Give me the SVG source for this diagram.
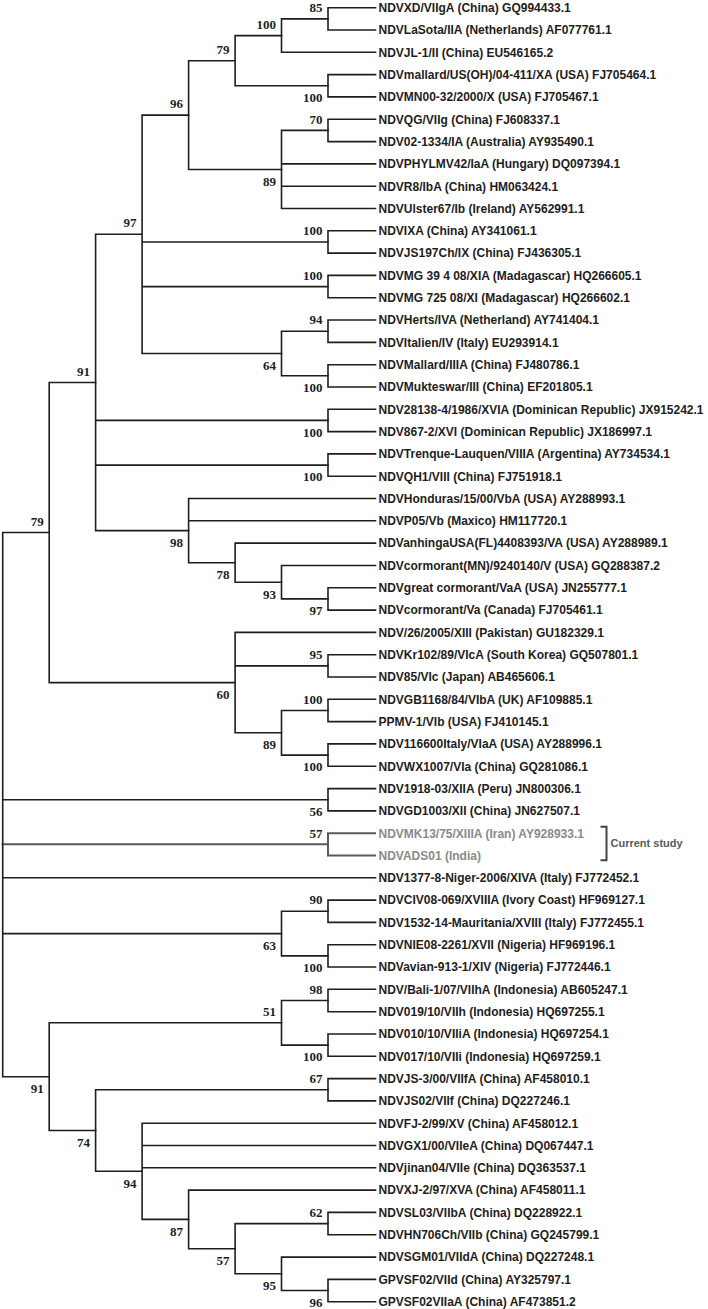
<svg xmlns="http://www.w3.org/2000/svg" width="708" height="1309" viewBox="0 0 708 1309">
<style>
.br{fill:none;stroke:#1e1e1e;stroke-width:1.6;stroke-linecap:square}
.gr{fill:none;stroke:#5a5a5a;stroke-width:2;stroke-linecap:square}
.bs{font-family:"Liberation Serif","Times New Roman",serif;font-weight:bold;font-size:13px;fill:#1e1e1e;text-anchor:end}
.lf{font-family:"Liberation Sans",Arial,sans-serif;font-weight:bold;font-size:12px;fill:#1e1e1e}
.lg{font-family:"Liberation Sans",Arial,sans-serif;font-weight:bold;font-size:12px;fill:#8a8a8a}
.cs{font-family:"Liberation Sans",Arial,sans-serif;font-weight:bold;font-size:11px;fill:#5a5a5a}
</style>
<rect width="708" height="1309" fill="#ffffff"/>
<g id="connectors">
<path class="br" d="M328,7.7V30M328,7.7H375.5M328,30H375.5"/>
<path class="br" d="M281.5,18.9V52.3M281.5,18.9H328M281.5,52.3H375.5"/>
<path class="br" d="M328,74.6V96.9M328,74.6H375.5M328,96.9H375.5"/>
<path class="br" d="M235.1,35.6V85.8M235.1,35.6H281.5M235.1,85.8H328"/>
<path class="br" d="M328,119.3V141.6M328,119.3H375.5M328,141.6H375.5"/>
<path class="br" d="M281.5,130.4V208.5M281.5,130.4H328M281.5,163.9H375.5M281.5,186.2H375.5M281.5,208.5H375.5"/>
<path class="br" d="M188.6,60.7V169.5M188.6,60.7H235.1M188.6,169.5H281.5"/>
<path class="br" d="M328,230.8V253.1M328,230.8H375.5M328,253.1H375.5"/>
<path class="br" d="M328,275.4V297.7M328,275.4H375.5M328,297.7H375.5"/>
<path class="br" d="M328,320V342.4M328,320H375.5M328,342.4H375.5"/>
<path class="br" d="M328,364.7V387M328,364.7H375.5M328,387H375.5"/>
<path class="br" d="M281.5,331.2V375.8M281.5,331.2H328M281.5,375.8H328"/>
<path class="br" d="M142.1,115.1V353.5M142.1,115.1H188.6M142.1,242H328M142.1,286.6H328M142.1,353.5H281.5"/>
<path class="br" d="M328,409.3V431.6M328,409.3H375.5M328,431.6H375.5"/>
<path class="br" d="M328,453.9V476.2M328,453.9H375.5M328,476.2H375.5"/>
<path class="br" d="M328,587.8V610.1M328,587.8H375.5M328,610.1H375.5"/>
<path class="br" d="M281.5,565.5V598.9M281.5,565.5H375.5M281.5,598.9H328"/>
<path class="br" d="M235.1,543.1V582.2M235.1,543.1H375.5M235.1,582.2H281.5"/>
<path class="br" d="M188.6,498.5V562.7M188.6,498.5H375.5M188.6,520.8H375.5M188.6,562.7H235.1"/>
<path class="br" d="M95.6,234.3V530.6M95.6,234.3H142.1M95.6,420.4H328M95.6,465.1H328M95.6,530.6H188.6"/>
<path class="br" d="M328,654.7V677M328,654.7H375.5M328,677H375.5"/>
<path class="br" d="M328,699.3V721.6M328,699.3H375.5M328,721.6H375.5"/>
<path class="br" d="M328,743.9V766.2M328,743.9H375.5M328,766.2H375.5"/>
<path class="br" d="M281.5,710.5V755.1M281.5,710.5H328M281.5,755.1H328"/>
<path class="br" d="M235.1,632.4V732.8M235.1,632.4H375.5M235.1,665.9H328M235.1,732.8H281.5"/>
<path class="br" d="M49.2,382.5V682.6M49.2,382.5H95.6M49.2,682.6H235.1"/>
<path class="br" d="M328,788.6V810.9M328,788.6H375.5M328,810.9H375.5"/>
<path class="gr" d="M328,833.2V855.5M328,833.2H375M328,855.5H375M2.7,844.3H328"/>
<path class="br" d="M328,900.1V922.4M328,900.1H375.5M328,922.4H375.5"/>
<path class="br" d="M328,944.7V967M328,944.7H375.5M328,967H375.5"/>
<path class="br" d="M281.5,911.3V955.9M281.5,911.3H328M281.5,955.9H328"/>
<path class="br" d="M328,989.3V1011.7M328,989.3H375.5M328,1011.7H375.5"/>
<path class="br" d="M328,1034V1056.3M328,1034H375.5M328,1056.3H375.5"/>
<path class="br" d="M281.5,1000.5V1045.1M281.5,1000.5H328M281.5,1045.1H328"/>
<path class="br" d="M328,1078.6V1100.9M328,1078.6H375.5M328,1100.9H375.5"/>
<path class="br" d="M328,1212.4V1234.8M328,1212.4H375.5M328,1234.8H375.5"/>
<path class="br" d="M328,1279.4V1301.7M328,1279.4H375.5M328,1301.7H375.5"/>
<path class="br" d="M281.5,1257.1V1290.5M281.5,1257.1H375.5M281.5,1290.5H328"/>
<path class="br" d="M235.1,1223.6V1273.8M235.1,1223.6H328M235.1,1273.8H281.5"/>
<path class="br" d="M188.6,1190.1V1248.7M188.6,1190.1H375.5M188.6,1248.7H235.1"/>
<path class="br" d="M142.1,1123.2V1219.4M142.1,1123.2H375.5M142.1,1145.5H375.5M142.1,1167.8H375.5M142.1,1219.4H188.6"/>
<path class="br" d="M95.6,1089.7V1171.3M95.6,1089.7H328M95.6,1171.3H142.1"/>
<path class="br" d="M49.2,1022.8V1130.5M49.2,1022.8H281.5M49.2,1130.5H95.6"/>
<path class="br" d="M2.7,532.5V1076.7M2.7,532.5H49.2M2.7,799.7H328M2.7,877.8H375.5M2.7,933.6H281.5M2.7,1076.7H49.2"/>
<path fill="none" stroke="#444" stroke-width="2" d="M600.5,826.7H606.5V860.3H600.5"/>
</g>
<g id="bootstrap">
<g id="n85"><text class="bs" x="322.5" y="12">85</text></g>
<g id="n100a"><text class="bs" x="276" y="28.7">100</text></g>
<g id="n100b"><text class="bs" x="322.5" y="102.1">100</text></g>
<g id="n79a"><text class="bs" x="229.6" y="53.8">79</text></g>
<g id="n70"><text class="bs" x="322.5" y="123.6">70</text></g>
<g id="n89a"><text class="bs" x="276" y="185.8">89</text></g>
<g id="n96"><text class="bs" x="183.1" y="108.2">96</text></g>
<g id="n100c"><text class="bs" x="322.5" y="235.1">100</text></g>
<g id="n100d"><text class="bs" x="322.5" y="279.7">100</text></g>
<g id="n94a"><text class="bs" x="322.5" y="324.4">94</text></g>
<g id="n100e"><text class="bs" x="322.5" y="392.1">100</text></g>
<g id="n64"><text class="bs" x="276" y="369.8">64</text></g>
<g id="n97a"><text class="bs" x="136.6" y="227.4">97</text></g>
<g id="n100f"><text class="bs" x="322.5" y="436.7">100</text></g>
<g id="n100g"><text class="bs" x="322.5" y="481.4">100</text></g>
<g id="n98a"><text class="bs" x="183.1" y="546.9">98</text></g>
<g id="n78"><text class="bs" x="229.6" y="579">78</text></g>
<g id="n93"><text class="bs" x="276" y="598.5">93</text></g>
<g id="n97b"><text class="bs" x="322.5" y="615.2">97</text></g>
<g id="n91a"><text class="bs" x="90.1" y="375.6">91</text></g>
<g id="n79b"><text class="bs" x="43.7" y="525.7">79</text></g>
<g id="n95a"><text class="bs" x="322.5" y="659">95</text></g>
<g id="n60"><text class="bs" x="229.6" y="698.9">60</text></g>
<g id="n100h"><text class="bs" x="322.5" y="703.6">100</text></g>
<g id="n89b"><text class="bs" x="276" y="749.1">89</text></g>
<g id="n100i"><text class="bs" x="322.5" y="771.4">100</text></g>
<g id="n56"><text class="bs" x="322.5" y="816">56</text></g>
<g id="n57a"><text class="bs" x="322.5" y="837.5">57</text></g>
<g id="n90"><text class="bs" x="322.5" y="904.4">90</text></g>
<g id="n63"><text class="bs" x="276" y="949.9">63</text></g>
<g id="n100j"><text class="bs" x="322.5" y="972.2">100</text></g>
<g id="n98b"><text class="bs" x="322.5" y="993.7">98</text></g>
<g id="n51"><text class="bs" x="276" y="1016">51</text></g>
<g id="n100k"><text class="bs" x="322.5" y="1061.4">100</text></g>
<g id="n91b"><text class="bs" x="43.7" y="1093">91</text></g>
<g id="n67"><text class="bs" x="322.5" y="1082.9">67</text></g>
<g id="n74"><text class="bs" x="90.1" y="1146.8">74</text></g>
<g id="n94b"><text class="bs" x="136.6" y="1187.6">94</text></g>
<g id="n87"><text class="bs" x="183.1" y="1235.7">87</text></g>
<g id="n62"><text class="bs" x="322.5" y="1216.8">62</text></g>
<g id="n57b"><text class="bs" x="229.6" y="1265">57</text></g>
<g id="n95b"><text class="bs" x="276" y="1290.1">95</text></g>
<g id="n96b"><text class="bs" x="322.5" y="1306.8">96</text></g>
</g>
<g id="leaves">
<g id="leaf01"><text class="lf" x="378.5" y="12">NDVXD/VIIgA (China) GQ994433.1</text></g>
<g id="leaf02"><text class="lf" x="378.5" y="34.3">NDVLaSota/IIA (Netherlands) AF077761.1</text></g>
<g id="leaf03"><text class="lf" x="378.5" y="56.6">NDVJL-1/II (China) EU546165.2</text></g>
<g id="leaf04"><text class="lf" x="378.5" y="78.9">NDVmallard/US(OH)/04-411/XA (USA) FJ705464.1</text></g>
<g id="leaf05"><text class="lf" x="378.5" y="101.2">NDVMN00-32/2000/X (USA) FJ705467.1</text></g>
<g id="leaf06"><text class="lf" x="378.5" y="123.6">NDVQG/VIIg (China) FJ608337.1</text></g>
<g id="leaf07"><text class="lf" x="378.5" y="145.9">NDV02-1334/IA (Australia) AY935490.1</text></g>
<g id="leaf08"><text class="lf" x="378.5" y="168.2">NDVPHYLMV42/IaA (Hungary) DQ097394.1</text></g>
<g id="leaf09"><text class="lf" x="378.5" y="190.5">NDVR8/IbA (China) HM063424.1</text></g>
<g id="leaf10"><text class="lf" x="378.5" y="212.8">NDVUlster67/Ib (Ireland) AY562991.1</text></g>
<g id="leaf11"><text class="lf" x="378.5" y="235.1">NDVIXA (China) AY341061.1</text></g>
<g id="leaf12"><text class="lf" x="378.5" y="257.4">NDVJS197Ch/IX (China) FJ436305.1</text></g>
<g id="leaf13"><text class="lf" x="378.5" y="279.7">NDVMG 39 4 08/XIA (Madagascar) HQ266605.1</text></g>
<g id="leaf14"><text class="lf" x="378.5" y="302">NDVMG 725 08/XI (Madagascar) HQ266602.1</text></g>
<g id="leaf15"><text class="lf" x="378.5" y="324.3">NDVHerts/IVA (Netherland) AY741404.1</text></g>
<g id="leaf16"><text class="lf" x="378.5" y="346.7">NDVItalien/IV (Italy) EU293914.1</text></g>
<g id="leaf17"><text class="lf" x="378.5" y="369">NDVMallard/IIIA (China) FJ480786.1</text></g>
<g id="leaf18"><text class="lf" x="378.5" y="391.3">NDVMukteswar/III (China) EF201805.1</text></g>
<g id="leaf19"><text class="lf" x="378.5" y="413.6">NDV28138-4/1986/XVIA (Dominican Republic) JX915242.1</text></g>
<g id="leaf20"><text class="lf" x="378.5" y="435.9">NDV867-2/XVI (Dominican Republic) JX186997.1</text></g>
<g id="leaf21"><text class="lf" x="378.5" y="458.2">NDVTrenque-Lauquen/VIIIA (Argentina) AY734534.1</text></g>
<g id="leaf22"><text class="lf" x="378.5" y="480.5">NDVQH1/VIII (China) FJ751918.1</text></g>
<g id="leaf23"><text class="lf" x="378.5" y="502.8">NDVHonduras/15/00/VbA (USA) AY288993.1</text></g>
<g id="leaf24"><text class="lf" x="378.5" y="525.1">NDVP05/Vb (Maxico) HM117720.1</text></g>
<g id="leaf25"><text class="lf" x="378.5" y="547.4">NDVanhingaUSA(FL)4408393/VA (USA) AY288989.1</text></g>
<g id="leaf26"><text class="lf" x="378.5" y="569.8">NDVcormorant(MN)/9240140/V (USA) GQ288387.2</text></g>
<g id="leaf27"><text class="lf" x="378.5" y="592.1">NDVgreat cormorant/VaA (USA) JN255777.1</text></g>
<g id="leaf28"><text class="lf" x="378.5" y="614.4">NDVcormorant/Va (Canada) FJ705461.1</text></g>
<g id="leaf29"><text class="lf" x="378.5" y="636.7">NDV/26/2005/XIII (Pakistan) GU182329.1</text></g>
<g id="leaf30"><text class="lf" x="378.5" y="659">NDVKr102/89/VIcA (South Korea) GQ507801.1</text></g>
<g id="leaf31"><text class="lf" x="378.5" y="681.3">NDV85/VIc (Japan) AB465606.1</text></g>
<g id="leaf32"><text class="lf" x="378.5" y="703.6">NDVGB1168/84/VIbA (UK) AF109885.1</text></g>
<g id="leaf33"><text class="lf" x="378.5" y="725.9">PPMV-1/VIb (USA) FJ410145.1</text></g>
<g id="leaf34"><text class="lf" x="378.5" y="748.2">NDV116600Italy/VIaA (USA) AY288996.1</text></g>
<g id="leaf35"><text class="lf" x="378.5" y="770.5">NDVWX1007/VIa (China) GQ281086.1</text></g>
<g id="leaf36"><text class="lf" x="378.5" y="792.9">NDV1918-03/XIIA (Peru) JN800306.1</text></g>
<g id="leaf37"><text class="lf" x="378.5" y="815.2">NDVGD1003/XII (China) JN627507.1</text></g>
<g id="leaf38"><text class="lg" x="378.5" y="837.5">NDVMK13/75/XIIIA (Iran) AY928933.1</text></g>
<g id="leaf39"><text class="lg" x="378.5" y="859.8">NDVADS01 (India)</text></g>
<g id="leaf40"><text class="lf" x="378.5" y="882.1">NDV1377-8-Niger-2006/XIVA (Italy) FJ772452.1</text></g>
<g id="leaf41"><text class="lf" x="378.5" y="904.4">NDVCIV08-069/XVIIIA (Ivory Coast) HF969127.1</text></g>
<g id="leaf42"><text class="lf" x="378.5" y="926.7">NDV1532-14-Mauritania/XVIII (Italy) FJ772455.1</text></g>
<g id="leaf43"><text class="lf" x="378.5" y="949">NDVNIE08-2261/XVII (Nigeria) HF969196.1</text></g>
<g id="leaf44"><text class="lf" x="378.5" y="971.3">NDVavian-913-1/XIV (Nigeria) FJ772446.1</text></g>
<g id="leaf45"><text class="lf" x="378.5" y="993.6">NDV/Bali-1/07/VIIhA (Indonesia) AB605247.1</text></g>
<g id="leaf46"><text class="lf" x="378.5" y="1016">NDV019/10/VIIh (Indonesia) HQ697255.1</text></g>
<g id="leaf47"><text class="lf" x="378.5" y="1038.3">NDV010/10/VIIiA (Indonesia) HQ697254.1</text></g>
<g id="leaf48"><text class="lf" x="378.5" y="1060.6">NDV017/10/VIIi (Indonesia) HQ697259.1</text></g>
<g id="leaf49"><text class="lf" x="378.5" y="1082.9">NDVJS-3/00/VIIfA (China) AF458010.1</text></g>
<g id="leaf50"><text class="lf" x="378.5" y="1105.2">NDVJS02/VIIf (China) DQ227246.1</text></g>
<g id="leaf51"><text class="lf" x="378.5" y="1127.5">NDVFJ-2/99/XV (China) AF458012.1</text></g>
<g id="leaf52"><text class="lf" x="378.5" y="1149.8">NDVGX1/00/VIIeA (China) DQ067447.1</text></g>
<g id="leaf53"><text class="lf" x="378.5" y="1172.1">NDVjinan04/VIIe (China) DQ363537.1</text></g>
<g id="leaf54"><text class="lf" x="378.5" y="1194.4">NDVXJ-2/97/XVA (China) AF458011.1</text></g>
<g id="leaf55"><text class="lf" x="378.5" y="1216.7">NDVSL03/VIIbA (China) DQ228922.1</text></g>
<g id="leaf56"><text class="lf" x="378.5" y="1239">NDVHN706Ch/VIIb (China) GQ245799.1</text></g>
<g id="leaf57"><text class="lf" x="378.5" y="1261.4">NDVSGM01/VIIdA (China) DQ227248.1</text></g>
<g id="leaf58"><text class="lf" x="378.5" y="1283.7">GPVSF02/VIId (China) AY325797.1</text></g>
<g id="leaf59"><text class="lf" x="378.5" y="1306">GPVSF02VIIaA (China) AF473851.2</text></g>
</g>
<g id="current-study"><text class="cs" x="610.5" y="847.2">Current study</text></g>
</svg>
